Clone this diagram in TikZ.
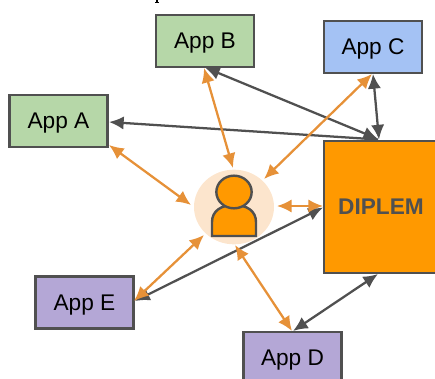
\documentclass[tikz,border=0pt]{standalone}
\usepackage{fontspec}
\setmainfont{Liberation Sans}
\usetikzlibrary{arrows.meta,shapes.geometric}
\definecolor{boxline}{HTML}{505050}
\definecolor{appgreen}{HTML}{B6D7A8}
\definecolor{appblue}{HTML}{A4C2F4}
\definecolor{apppurple}{HTML}{B4A7D6}
\definecolor{dorange}{HTML}{FF9900}
\definecolor{lineorange}{HTML}{E69138}
\definecolor{halo}{HTML}{FCE5CD}
\tikzset{
  px/.style={x=0.75pt,y=-0.75pt},
  appbox/.style={draw=boxline,line width=1.8pt,minimum width=73.5pt,minimum height=39pt,inner sep=0pt,text depth=0pt,font=\fontsize{17}{19}\selectfont,text=black},
  bighead/.tip={Latex[length=11pt,width=10pt]},
  dlink/.style={draw=boxline,line width=1.7pt,bighead-bighead},
  dsingle/.style={draw=boxline,line width=1.7pt,bighead-},
  olink/.style={draw=lineorange,line width=1.7pt,bighead-bighead},
  persona/.style={draw=boxline,line width=1.8pt,fill=dorange},
}
\begin{document}
\begin{tikzpicture}[px]
\useasboundingbox (0,0) rectangle (435,378);
\clip (0,0) rectangle (435,378);
\node[appbox,fill=appgreen] (a) at (58.5,121) {App A};
\node[appbox,fill=appgreen] (b) at (205,41) {App B};
\node[appbox,fill=appblue] (c) at (373,47) {App C};
\node[appbox,fill=apppurple] (e) at (84.5,302.5) {App E};
\node[appbox,fill=apppurple] (d) at (292.5,358) {App D};
\node[draw=boxline,line width=1.8pt,fill=dorange,minimum width=85.5pt,minimum height=99pt,inner sep=0pt,font=\bfseries\fontsize{17}{19}\selectfont,text=boxline] (m) at (381,207) {DIPLEM};
\node[fill=halo,ellipse,minimum width=60pt,minimum height=56pt,inner sep=0pt] (u) at (234,207) {};
% persona
\draw[persona] (212,236) -- (212,222) .. controls (212,211) and (221,205) .. (234,205) .. controls (247,205) and (256,211) .. (256,222) -- (256,236) -- cycle;
\node[persona,ellipse,minimum width=26.5pt,minimum height=24.5pt,inner sep=0pt] (head) at (234,192) {};
% connector ends
\coordinate (aD) at (109,122);
\coordinate (mA) at (378,139.5);
\coordinate (bD) at (205,67.5);
\coordinate (mB) at (378,139);
\coordinate (cD) at (373,74);
\coordinate (mC) at (379,139.5);
\coordinate (eD) at (135,301);
\coordinate (mE) at (323,207.5);
\coordinate (dD) at (293,331);
\coordinate (mD) at (378,274);
\coordinate (aO) at (109,145);
\coordinate (uA) at (191,205);
\coordinate (bO) at (204,68);
\coordinate (uB) at (233,168);
\coordinate (cO) at (372,74);
\coordinate (uC) at (264,179);
\coordinate (eO) at (134,301);
\coordinate (uE) at (204,235);
\coordinate (dO) at (292,331);
\coordinate (uD) at (235,245);
\coordinate (mO) at (323,206);
\coordinate (uM) at (277,206);
% dark links
\draw[dsingle] (aD) -- (mA);
\draw[dlink] (bD) -- (mB);
\draw[dlink] (cD) -- (mC);
\draw[dlink] (eD) -- (mE);
\draw[dlink] (dD) -- (mD);
% orange links
\draw[olink] (aO) -- (uA);
\draw[olink] (bO) -- (uB);
\draw[olink] (cO) -- (uC);
\draw[olink] (eO) -- (uE);
\draw[olink] (dO) -- (uD);
\draw[olink] (mO) -- (uM);
% cut-off mark at the top edge
\draw[black,line width=0.8pt] (157,0) -- (157,2) (155,2.2) -- (159,2.2);
\end{tikzpicture}
\end{document}
